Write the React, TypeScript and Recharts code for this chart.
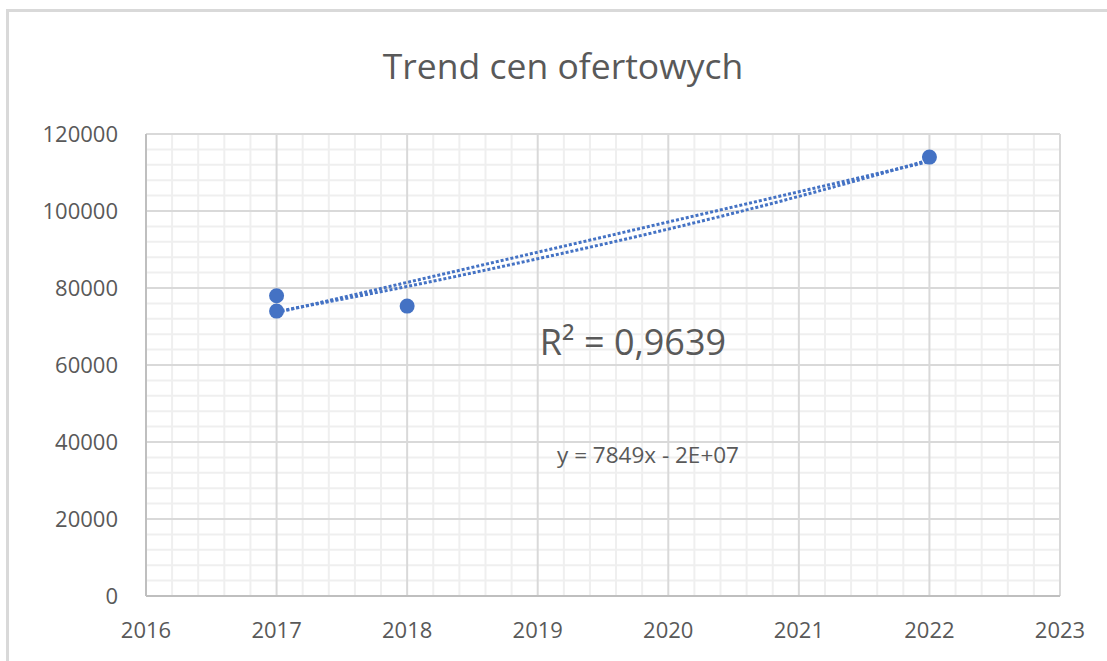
import {
  ComposedChart, Scatter, Line, XAxis, YAxis, CartesianGrid,
} from 'recharts';

// observed offer prices (year, PLN)
const years = [2017, 2017, 2018, 2022];
const prices = [78000, 74000, 75300, 114000];

// trendlines, one value per year 2017..2022
const trendYears = [2017, 2018, 2019, 2020, 2021, 2022];
const linearTrend = [73600, 81450, 89300, 97150, 105000, 112850];
const expTrend = [73900, 80400, 87600, 95300, 103800, 113300];

const xTicks = [2016, 2017, 2018, 2019, 2020, 2021, 2022, 2023];
const yTicks = [0, 20000, 40000, 60000, 80000, 100000, 120000];

const title = 'Trend cen ofertowych';
const r2Text = 'R² = 0,9639';
const eqText = 'y = 7849x - 2E+07';

const BLUE = '#4472c4';
const TEXT = '#595959';
const FONT = '"Open Sans", sans-serif';

// minor grid: 5 steps between major ticks
const minorX: number[] = [];
for (let i = 0; i < xTicks.length - 1; i++) {
  for (let k = 1; k < 5; k++) minorX.push(xTicks[i] + k * 0.2);
}
const minorY: number[] = [];
for (let i = 0; i < yTicks.length - 1; i++) {
  for (let k = 1; k < 5; k++) minorY.push(yTicks[i] + k * 4000);
}

const points = years.map((x, i) => ({ x, y: prices[i] }));
const linData = trendYears.map((x, i) => ({ x, y: linearTrend[i] }));
const expData = trendYears.map((x, i) => ({ x, y: expTrend[i] }));

export default function App() {
  return (
    <div style={{ position: 'absolute', left: 0, top: 0, width: 1107, height: 661, background: '#fff', fontFamily: FONT }}>
      <div style={{
        position: 'absolute', left: 6, top: 9, right: 0, bottom: 0,
        borderLeft: '3px solid #d9d9d9', borderTop: '3px solid #d9d9d9',
      }} />
      <div style={{
        position: 'absolute', left: 0, width: 1126, top: 41, textAlign: 'center',
        fontSize: 35.5, color: TEXT, lineHeight: '48px',
      }}>{title}</div>
      <ComposedChart
        width={1107}
        height={661}
        margin={{ top: 134, right: 47, bottom: 25, left: 0 }}
        style={{ position: 'absolute', left: 0, top: 0 }}
      >
        <CartesianGrid horizontalValues={minorY} verticalValues={minorX} stroke="#efefef" strokeWidth={2} />
        <CartesianGrid stroke="#d9d9d9" strokeWidth={2} />
        <XAxis
          type="number" dataKey="x" domain={[2016, 2023]} ticks={xTicks} interval={0}
          height={40} tickLine={false} tickMargin={20}
          axisLine={{ stroke: '#bfbfbf', strokeWidth: 2 }}
          tick={{ fontSize: 22, fill: TEXT, fontFamily: FONT }}
        />
        <YAxis
          type="number" dataKey="y" domain={[0, 120000]} ticks={yTicks} interval={0}
          width={146} tickLine={false} tickMargin={22}
          axisLine={{ stroke: '#bfbfbf', strokeWidth: 2 }}
          tick={{ fontSize: 22, fill: TEXT, fontFamily: FONT }}
        />
        <Line data={linData} dataKey="y" type="linear" stroke={BLUE} strokeWidth={3}
          strokeDasharray="3 2" dot={false} isAnimationActive={false} />
        <Line data={expData} dataKey="y" type="monotone" stroke={BLUE} strokeWidth={3}
          strokeDasharray="3 2" dot={false} isAnimationActive={false} />
        <Scatter data={points} dataKey="y" fill={BLUE} isAnimationActive={false}
          shape={(p: any) => <circle cx={p.cx} cy={p.cy} r={7.5} fill={BLUE} />} />
      </ComposedChart>
      <div style={{
        position: 'absolute', left: 433, width: 400, top: 318, textAlign: 'center',
        fontSize: 36, color: TEXT, lineHeight: '48px',
      }}>{r2Text}</div>
      <div style={{
        position: 'absolute', left: 448, width: 400, top: 439, textAlign: 'center',
        fontSize: 22.5, color: TEXT, lineHeight: '32px',
      }}>{eqText}</div>
    </div>
  );
}
